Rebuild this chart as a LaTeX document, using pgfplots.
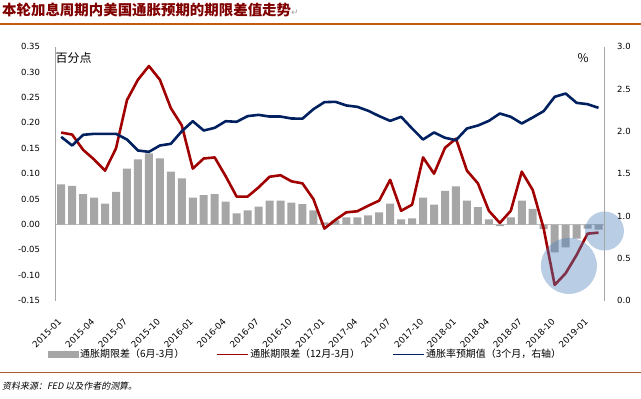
\documentclass[border=0pt]{standalone}
\usepackage{fontspec}
\setmainfont{DejaVu Sans}
\newfontfamily\cjk{Noto Sans CJK SC}
\newfontfamily\cjki{Noto Sans CJK SC}[FakeSlant=0.2]
\usepackage{pgfplots}
\pgfplotsset{compat=1.18}
\usepackage{pgfplotstable}

\definecolor{barg}{HTML}{A6A6A6}
\definecolor{redl}{HTML}{A00000}
\definecolor{navy}{HTML}{002060}
\definecolor{circ}{HTML}{4F81BD}
\definecolor{axg}{HTML}{A6A6A6}
\definecolor{zerog}{HTML}{BFBFBF}
\definecolor{ttl}{HTML}{800000}
\definecolor{orl}{HTML}{C55A11}
\definecolor{brl}{HTML}{A9592A}

\pgfplotstableread{
idx bar red blue
0 0.079 0.181 1.935
1 0.076 0.177 1.833
2 0.060 0.147 1.959
3 0.053 0.128 1.971
4 0.041 0.106 1.971
5 0.064 0.150 1.971
6 0.110 0.245 1.904
7 0.128 0.285 1.774
8 0.140 0.312 1.758
9 0.130 0.285 1.833
10 0.104 0.229 1.853
11 0.091 0.195 2.002
12 0.053 0.110 2.120
13 0.058 0.130 2.010
14 0.060 0.132 2.042
15 0.045 0.095 2.120
16 0.022 0.055 2.113
17 0.028 0.055 2.180
18 0.035 0.073 2.195
19 0.047 0.094 2.175
20 0.047 0.097 2.175
21 0.043 0.085 2.152
22 0.040 0.081 2.150
23 0.028 0.050 2.262
24 0.004 -0.008 2.345
25 0.008 0.009 2.349
26 0.014 0.024 2.306
27 0.014 0.026 2.290
28 0.018 0.037 2.243
29 0.024 0.047 2.180
30 0.041 0.088 2.124
31 0.010 0.027 2.172
32 0.012 0.039 2.034
33 0.053 0.132 1.904
34 0.039 0.100 1.987
35 0.066 0.151 1.924
36 0.075 0.169 1.896
37 0.047 0.106 2.034
38 0.034 0.081 2.069
39 0.010 0.027 2.124
40 -0.003 0.003 2.211
41 0.014 0.027 2.172
42 0.047 0.104 2.093
43 0.031 0.068 2.164
44 -0.009 -0.008 2.239
45 -0.055 -0.119 2.408
46 -0.045 -0.096 2.447
47 -0.028 -0.060 2.337
48 -0.008 -0.018 2.321
49 -0.010 -0.016 2.278
}\data

\begin{document}
\begin{tikzpicture}[x=1bp,y=1bp]
\useasboundingbox (0,0) rectangle (641,398);
\begin{axis}[
  at={(55.7bp,97.3bp)}, anchor=south west,
  width=548.3bp, height=254bp, scale only axis,
  xmin=-0.5, xmax=49.5, ymin=-0.15, ymax=0.35,
  axis lines*=left,
  x axis line style={draw=none},
  y axis line style={draw=axg, line width=0.8bp},
  major tick length=0pt,
  xtick={0,3,...,48},
  xticklabels={2015-01,2015-04,2015-07,2015-10,2016-01,2016-04,2016-07,2016-10,2017-01,2017-04,2017-07,2017-10,2018-01,2018-04,2018-07,2018-10,2019-01},
  ytick={-0.15,-0.1,-0.05,0,0.05,0.1,0.15,0.2,0.25,0.3,0.35},
  yticklabels={-0.15,-0.10,-0.05,0.00,0.05,0.10,0.15,0.20,0.25,0.30,0.35},
  ticklabel style={font=\fontsize{8.5}{10}\selectfont},
  yticklabel style={inner sep=0pt, xshift=-15.5bp},
  xticklabel style={inner sep=0pt, xshift=-1.2bp, yshift=-19.5bp, rotate=45, anchor=east, font=\fontsize{8.8}{10}\selectfont},
  extra y ticks={0}, extra y tick labels={},
  extra y tick style={grid=major, major grid style={draw=zerog, line width=0.9bp}},
  clip=false,
  legend columns=3,
  legend cell align=left,
  legend image code/.code={\draw[#1,line width=1bp] (0bp,0bp) -- (31bp,0bp);},
  legend style={at={(-0.0149,-0.21)}, anchor=west, draw=none, fill=none, inner sep=0pt,
    font=\cjk\fontsize{10}{12}\selectfont,
    nodes={inner sep=1.5bp},
    /tikz/every even column/.append style={column sep=31bp}},
]
\addplot[ybar, bar width=8bp, bar shift=0pt, fill=barg, draw=none,
  legend image code/.code={\fill[barg] (0bp,-3.5bp) rectangle (31bp,3.5bp);}]
  table[x=idx,y=bar]{\data};
\addlegendentry{通胀期限差（6月-3月）}
\addplot[redl, line width=2.6bp, line join=round, mark=none] table[x=idx,y=red]{\data};
\addlegendentry{通胀期限差（12月-3月）}
\addlegendimage{navy, line width=2.6bp}
\addlegendentry{通胀率预期值（3个月，右轴）}
\addplot[circ, only marks, mark=*, mark size=28bp, mark options={fill=circ, fill opacity=0.4, draw opacity=0}, forget plot]
  coordinates {(46.3,-0.0815)};
\addplot[circ, only marks, mark=*, mark size=19.5bp, mark options={fill=circ, fill opacity=0.4, draw opacity=0}, forget plot]
  coordinates {(49.54,-0.0128)};
\end{axis}
\begin{axis}[
  at={(55.7bp,97.3bp)}, anchor=south west,
  width=548.3bp, height=254bp, scale only axis,
  xmin=-0.5, xmax=49.5, ymin=0, ymax=3,
  axis x line=none, xtick=\empty,
  axis y line*=right,
  y axis line style={draw=axg, line width=0.8bp},
  major tick length=0pt,
  ytick={0,0.5,1,1.5,2,2.5,3},
  yticklabels={0.0,0.5,1.0,1.5,2.0,2.5,3.0},
  ticklabel style={font=\fontsize{8.5}{10}\selectfont},
  yticklabel style={inner sep=0pt, xshift=13bp},
]
\addplot[navy, line width=2.6bp, line join=round, mark=none] table[x=idx,y=blue]{\data};
\end{axis}
\node[anchor=west, inner sep=0pt] at (55.5,340.5) {\cjk\fontsize{12}{12}\selectfont 百分点};
\node[inner sep=0pt] at (583,340) {\cjk\fontsize{12}{12}\selectfont \%};
\node[anchor=west, inner sep=0pt, text=ttl] at (2,388.5) {\cjk\bfseries\fontsize{14.5}{14.5}\selectfont 本轮加息周期内美国通胀预期的期限差值走势{\rmfamily\mdseries\color{gray!70}\fontsize{9}{9}\selectfont ↵}};
\draw[orl, line width=1.5bp] (0,374) -- (641,374);
\draw[brl, line width=1.5bp] (0,25.3) -- (641,25.3);
\node[anchor=west, inner sep=0pt] at (2,12) {\cjki\fontsize{9}{9}\selectfont 资料来源：FED 以及作者的测算。};
\end{tikzpicture}
\end{document}
